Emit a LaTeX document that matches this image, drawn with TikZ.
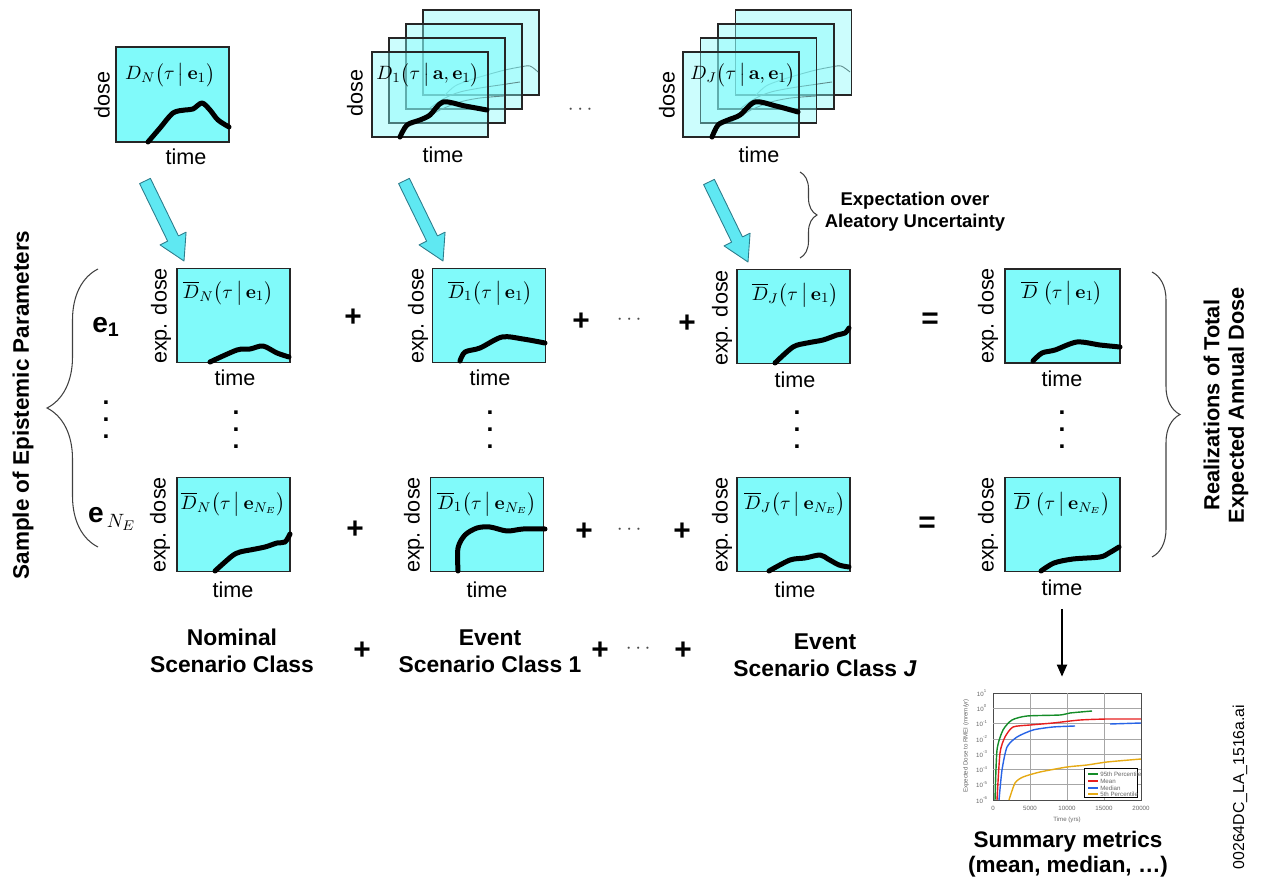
\documentclass[tikz,border=0pt]{standalone}
\usepackage{amsmath}
\usepackage{amssymb}
\usepackage[no-math]{fontspec}
\setmainfont{Liberation Sans}
\usepackage{xcolor}
\usepackage{tikz}
\usetikzlibrary{calc}
\usetikzlibrary{arrows.meta}
\usetikzlibrary{decorations.pathreplacing}

\definecolor{dosecyan}{RGB}{128,250,250}
\definecolor{arrowcyan}{RGB}{95,232,242}
\definecolor{arrowedge}{RGB}{45,125,140}
\definecolor{thincurve}{RGB}{95,140,140}
\definecolor{pctgreen}{RGB}{20,140,40}
\definecolor{meanred}{RGB}{230,30,30}
\definecolor{medblue}{RGB}{40,100,230}
\definecolor{lowgold}{RGB}{230,170,20}

\newcommand{\fatarrow}[2]{%
    \coordinate (#1-h) at ($(#2)!5mm!(#1)$);
    \filldraw[fatarrow] ($(#1)!1.2mm!90:(#2)$) -- ($(#1-h)!1.2mm!90:(#2)$)
        -- ($(#1-h)!2.9mm!90:(#2)$) -- (#2) -- ($(#1-h)!2.9mm!-90:(#2)$)
        -- ($(#1-h)!1.2mm!-90:(#2)$) -- ($(#1)!1.2mm!-90:(#2)$) -- cycle;
}
\newcommand{\stackdots}{\vbox{\baselineskip=9.7pt\lineskiplimit=0pt\hbox{.}\hbox{.}\hbox{.}}}
\newcommand{\given}{\,\big|\,}

\begin{document}
\begin{tikzpicture}[x=0.2mm, y=-0.2mm,
    dosebox/.style={draw=black!85, line width=0.7pt, fill=dosecyan, inner sep=0pt,
        minimum width=22.6mm, minimum height=18.8mm},
    stackbox/.style={draw=black!85, line width=0.6pt, fill=dosecyan, fill opacity=0.4,
        inner sep=0pt, minimum width=23.2mm, minimum height=17mm},
    doseline/.style={line width=1mm, line cap=round, line join=round},
    faintline/.style={draw=thincurve, line width=0.5pt},
    fatarrow/.style={fill=arrowcyan, draw=arrowedge, line width=0.5pt, line join=round},
    axlbl/.style={font=\fontsize{12.3}{14}\selectfont, inner sep=0pt},
    eqlbl/.style={font=\fontsize{11}{13}\selectfont, inner sep=0pt},
    opsign/.style={font=\fontsize{17}{20}\selectfont\bfseries, inner sep=0pt},
    dotsign/.style={font=\fontsize{12}{14}\selectfont, text=black!70, inner sep=0pt},
    vdotsign/.style={font=\fontsize{14}{14}\selectfont\bfseries, inner sep=0pt},
    caption/.style={font=\fontsize{13}{15.4}\selectfont\bfseries, align=center, inner sep=0pt},
    curly/.style={draw=black!75, line width=0.6pt, decorate},
    gridline/.style={draw=black!35, line width=0.3pt},
    ticklbl/.style={font=\fontsize{3.5}{4}\selectfont, text=black!60, inner sep=0pt},
]
    \useasboundingbox (0,0) rectangle (1263,879);

    % conditional doses for one epistemic sample
    \node[dosebox, minimum height=19mm] (topnom) at (172.5,94.5) {};
    \draw[doseline] plot[smooth, tension=0.5] coordinates {(148,142) (160,128) (173,113) (185,110) (193,109) (202,103) (210,110) (218,120) (229,127)};
    \node[eqlbl] (topnom-eq) at (170,75) {$D_N\bigl(\tau\given\mathbf{e}_1\bigr)$};
    \node[axlbl, rotate=90] (topnom-y) at (102,95) {dose};
    \node[axlbl] (topnom-x) at (186,157) {time};

    \node[stackbox] (topev-4) at (481,52.5) {};
    \draw[faintline] plot[smooth] coordinates {(445,95) (455,86) (470,80) (490,74) (505,70) (520,67) (530,66) (538,72)};
    \node[stackbox] (topev-3) at (464,66.5) {};
    \draw[faintline] plot[smooth] coordinates {(430,108) (445,98) (460,92) (480,88) (500,85) (520,82)};
    \node[stackbox] (topev-2) at (447,80.5) {};
    \draw[faintline] plot[smooth] coordinates {(420,122) (440,110) (460,102) (480,98) (504,96)};
    \node[stackbox] (topev-1) at (430,94.5) {};
    \draw[doseline] plot[smooth, tension=0.5] coordinates {(400,137) (407,125) (420,120) (430,115) (443,102) (465,106) (487,110)};
    \node[eqlbl] (topev-eq) at (428,75) {$D_1\bigl(\tau\given\mathbf{a},\mathbf{e}_1\bigr)$};
    \node[axlbl, rotate=90] (topev-y) at (355,93) {dose};
    \node[axlbl] (topev-x) at (443,155) {time};

    \node[dotsign] (topdots) at (582,110) {$\cdots$};

    \node[stackbox] (topevJ-4) at (793.5,52.5) {};
    \draw[faintline] plot[smooth] coordinates {(756,95) (766,86) (781,80) (801,74) (816,70) (831,67) (841,66) (850,72)};
    \node[stackbox] (topevJ-3) at (776,66.5) {};
    \draw[faintline] plot[smooth] coordinates {(741,108) (756,98) (771,92) (791,88) (811,85) (832,82)};
    \node[stackbox] (topevJ-2) at (758.5,80.5) {};
    \draw[faintline] plot[smooth] coordinates {(731,122) (751,110) (771,102) (791,98) (816,96)};
    \node[stackbox] (topevJ-1) at (741,94.5) {};
    \draw[doseline] plot[smooth, tension=0.5] coordinates {(712,137) (718,125) (728,120) (740,115) (755,102) (776,106) (798,112)};
    \node[eqlbl] (topevJ-eq) at (743,75) {$D_J\bigl(\tau\given\mathbf{a},\mathbf{e}_1\bigr)$};
    \node[axlbl, rotate=90] (topevJ-y) at (667,95) {dose};
    \node[axlbl] (topevJ-x) at (759,155) {time};

    % expectation arrows
    \coordinate (arrN-a) at (145,181);
    \coordinate (arrN-b) at (184,261);
    \coordinate (arrA-a) at (404,181);
    \coordinate (arrA-b) at (443,261);
    \coordinate (arrJ-a) at (709,182);
    \coordinate (arrJ-b) at (748,262);
    \fatarrow{arrN-a}{arrN-b}
    \fatarrow{arrA-a}{arrA-b}
    \fatarrow{arrJ-a}{arrJ-b}

    \coordinate (expbrace-a) at (800,172);
    \coordinate (expbrace-b) at (800,258);
    \draw[curly, decoration={brace, amplitude=3.4mm}] (expbrace-a) -- (expbrace-b);
    \node[font=\fontsize{10.5}{12.5}\selectfont\bfseries, align=center] (exptext) at (915,212) {Expectation over\\Aleatory Uncertainty};

    % expected doses, sample e_1
    \node[dosebox] (nom1) at (233.5,315.5) {};
    \node[dosebox] (ev1) at (489,315.5) {};
    \node[dosebox] (evJ1) at (793.5,316.5) {};
    \node[dosebox, minimum width=23mm] (tot1) at (1062.5,316) {};
    \draw[doseline] plot[smooth, tension=0.5] coordinates {(210,362) (237,350) (250,349) (263,346) (277,353) (289,357)};
    \draw[doseline] plot[smooth, tension=0.5] coordinates {(460,361) (465,352) (480,348) (502,337) (523,339) (545,343)};
    \draw[doseline] plot[smooth, tension=0.5] coordinates {(775,363) (793,347) (807,343) (823,340) (837,335) (845,333) (849,328)};
    \draw[doseline] plot[smooth, tension=0.5] coordinates {(1033,361) (1042,353) (1055,350) (1077,342) (1100,345) (1120,347)};
    \node[eqlbl] (nom1-eq) at (228,293) {$\overline{D}_N\bigl(\tau\given\mathbf{e}_1\bigr)$};
    \node[eqlbl] (ev1-eq) at (490,293) {$\overline{D}_1\bigl(\tau\given\mathbf{e}_1\bigr)$};
    \node[eqlbl] (evJ1-eq) at (795,295) {$\overline{D}_J\bigl(\tau\given\mathbf{e}_1\bigr)$};
    \node[eqlbl] (tot1-eq) at (1062,293) {$\overline{D}\;\bigl(\tau\given\mathbf{e}_1\bigr)$};
    \node[axlbl, rotate=90] (nom1-y) at (161,316) {exp. dose};
    \node[axlbl, rotate=90] (ev1-y) at (418,316) {exp. dose};
    \node[axlbl, rotate=90] (evJ1-y) at (722,318) {exp. dose};
    \node[axlbl, rotate=90] (tot1-y) at (988,316) {exp. dose};
    \node[axlbl] (nom1-x) at (235,378) {time};
    \node[axlbl] (ev1-x) at (490,378) {time};
    \node[axlbl] (evJ1-x) at (795,380) {time};
    \node[axlbl] (tot1-x) at (1062,379) {time};
    \node[opsign] (plus1a) at (353,318) {+};
    \node[opsign] (plus1b) at (581,322) {+};
    \node[dotsign] (dots1) at (631,320) {$\cdots$};
    \node[opsign] (plus1c) at (687,324) {+};
    \node[opsign] (equal1) at (930,321) {=};

    % vertical ellipses between samples
    \node[vdotsign] (vdN) at (236,430) {\stackdots};
    \node[vdotsign] (vdA) at (490,430) {\stackdots};
    \node[vdotsign] (vdJ) at (797,430) {\stackdots};
    \node[vdotsign] (vdT) at (1062,430) {\stackdots};

    % expected doses, sample e_NE
    \node[dosebox] (nomE) at (233.5,524.5) {};
    \node[dosebox] (evE) at (487,524.5) {};
    \node[dosebox] (evJE) at (793.5,524.5) {};
    \node[dosebox, minimum width=23mm] (totE) at (1062.5,524.5) {};
    \draw[doseline] plot[smooth, tension=0.5] coordinates {(215,571) (232,556) (240,552) (250,550) (265,547) (277,543) (285,542) (290,534)};
    \draw[doseline] plot[smooth, tension=0.5] coordinates {(458,571) (458,548) (465,535) (477,528) (490,527) (507,531) (523,529) (545,529)};
    \draw[doseline] plot[smooth, tension=0.5] coordinates {(769,571) (790,560) (805,558) (820,555) (828,559) (839,565) (849,567)};
    \draw[doseline] plot[smooth, tension=0.5] coordinates {(1041,571) (1054,563) (1073,559) (1100,557) (1109,553) (1119,547)};
    \node[eqlbl] (nomE-eq) at (233,504) {$\overline{D}_N\bigl(\tau\given\mathbf{e}_{N_E}\bigr)$};
    \node[eqlbl] (evE-eq) at (487,504) {$\overline{D}_1\bigl(\tau\given\mathbf{e}_{N_E}\bigr)$};
    \node[eqlbl] (evJE-eq) at (795,504) {$\overline{D}_J\bigl(\tau\given\mathbf{e}_{N_E}\bigr)$};
    \node[eqlbl] (totE-eq) at (1062,504) {$\overline{D}\;\bigl(\tau\given\mathbf{e}_{N_E}\bigr)$};
    \node[axlbl, rotate=90] (nomE-y) at (160,525) {exp. dose};
    \node[axlbl, rotate=90] (evE-y) at (414,525) {exp. dose};
    \node[axlbl, rotate=90] (evJE-y) at (722,525) {exp. dose};
    \node[axlbl, rotate=90] (totE-y) at (988,525) {exp. dose};
    \node[axlbl] (nomE-x) at (233,590) {time};
    \node[axlbl] (evE-x) at (487,590) {time};
    \node[axlbl] (evJE-x) at (795,590) {time};
    \node[axlbl] (totE-x) at (1062,588) {time};
    \node[opsign] (plusEa) at (355,530) {+};
    \node[opsign] (plusEb) at (584,532) {+};
    \node[dotsign] (dotsE) at (631,530) {$\cdots$};
    \node[opsign] (plusEc) at (682,532) {+};
    \node[opsign] (equalE) at (927,525) {=};

    % epistemic sample
    \node[font=\fontsize{16}{18}\selectfont\bfseries, inner sep=0pt] (eone) at (106,327) {e$_{\textbf{1}}$};
    \node[vdotsign] (vdE) at (106,420) {\stackdots};
    \node[font=\fontsize{16}{18}\selectfont\bfseries, inner sep=0pt] (eNE) at (112,519) {e$_{\,N_E}$};
    \coordinate (lbrace-a) at (98,547);
    \coordinate (lbrace-b) at (98,269);
    \draw[curly, decoration={brace, amplitude=10.2mm}] (lbrace-a) -- (lbrace-b);
    \node[font=\fontsize{12.8}{15}\selectfont\bfseries, rotate=90, inner sep=0pt] (sampletext) at (23,405) {Sample of Epistemic Parameters};

    \coordinate (rbrace-a) at (1152,272);
    \coordinate (rbrace-b) at (1152,557);
    \draw[curly, decoration={brace, amplitude=5.6mm}] (rbrace-a) -- (rbrace-b);
    \node[font=\fontsize{12.4}{14}\selectfont\bfseries, rotate=90, align=center, inner sep=0pt] (totaltext) at (1226,405) {Realizations of Total\\Expected Annual Dose};

    % scenario classes
    \node[caption] (nomcap) at (232,651) {Nominal\\Scenario Class};
    \node[opsign] (plusCa) at (362,651) {+};
    \node[caption] (evcap) at (490,651) {Event\\Scenario Class 1};
    \node[opsign] (plusCb) at (600,651) {+};
    \node[dotsign] (dotsC) at (640,649) {$\cdots$};
    \node[opsign] (plusCc) at (683,651) {+};
    \node[caption] (evJcap) at (825,655) {Event\\Scenario Class \textit{J}};

    % summary plot
    \node[draw=black!70, line width=0.4pt, inner sep=0pt, minimum width=29.6mm, minimum height=21.4mm] (plot) at (1067,746.5) {};
    \foreach \gx in {1030,1067,1104}
        \draw[gridline] (\gx,693) -- (\gx,800);
    \foreach \gy in {708.3,723.6,738.9,754.1,769.4,784.7}
        \draw[gridline] (993,\gy) -- (1141,\gy);
    \draw[pctgreen, line width=0.8pt] plot[smooth, tension=0.4] coordinates {(995,800) (997,750) (1003,730) (1012,720) (1027,716) (1060,715) (1070,713) (1092,711)};
    \draw[meanred, line width=0.8pt] plot[smooth, tension=0.4] coordinates {(997,800) (1000,753) (1005,737) (1013,727) (1030,725) (1053,723) (1080,720) (1107,719) (1141,719)};
    \draw[medblue, line width=0.8pt] plot[smooth, tension=0.4] coordinates {(999,800) (1002,770) (1007,747) (1017,737) (1033,730) (1053,727) (1075,726)};
    \draw[medblue, line width=0.8pt] (1110,724) -- (1141,723);
    \draw[lowgold, line width=0.8pt] plot[smooth, tension=0.4] coordinates {(1009,800) (1015,783) (1023,777) (1040,772) (1067,767) (1087,765) (1107,762) (1141,759)};
    \node[draw=black, fill=white, line width=0.4pt, inner sep=0pt, minimum width=10.6mm, minimum height=5.8mm] (legend) at (1110.5,782.5) {};
    \draw[pctgreen, line width=0.6pt] (1088,774) -- (1098,774);
    \draw[meanred, line width=0.6pt] (1088,781) -- (1098,781);
    \draw[medblue, line width=0.6pt] (1088,788) -- (1098,788);
    \draw[lowgold, line width=0.6pt] (1088,794) -- (1098,794);
    \node[ticklbl, anchor=west] (leg1) at (1100,774) {95th Percentile};
    \node[ticklbl, anchor=west] (leg2) at (1100,781) {Mean};
    \node[ticklbl, anchor=west] (leg3) at (1100,788) {Median};
    \node[ticklbl, anchor=west] (leg4) at (1100,794) {5th Percentile};
    \foreach \ex [count=\k from 0] in {1,0,-1,-2,-3,-4,-5,-6}
        \node[ticklbl] (ytick\k) at (982,693+15.29*\k) {10\textsuperscript{\ex}};
    \foreach \tx [count=\k from 0] in {0,5000,10000,15000,20000}
        \node[ticklbl] (xtick\k) at (993+37*\k,808) {\tx};
    \node[ticklbl] (plotxlbl) at (1067,820) {Time (yrs)};
    \node[ticklbl, rotate=90] (plotylbl) at (966,746) {Expected Dose to RMEI (mrem/yr)};

    \draw[line width=1.1pt, -{Triangle[width=2mm,length=2.4mm]}, shorten <=2.5mm, shorten >=3.2mm] (totE-x.south) -- (totE-x.south |- plot.north);

    \node[caption, font=\fontsize{12.8}{14.2}\selectfont\bfseries] (summary) at (1068,854) {Summary metrics\\(mean, median, \dots)};
    \node[rotate=90, font=\fontsize{9}{10}\selectfont, inner sep=0pt] (fileid) at (1240,787) {00264DC\_LA\_1516a.ai};
\end{tikzpicture}
\end{document}
